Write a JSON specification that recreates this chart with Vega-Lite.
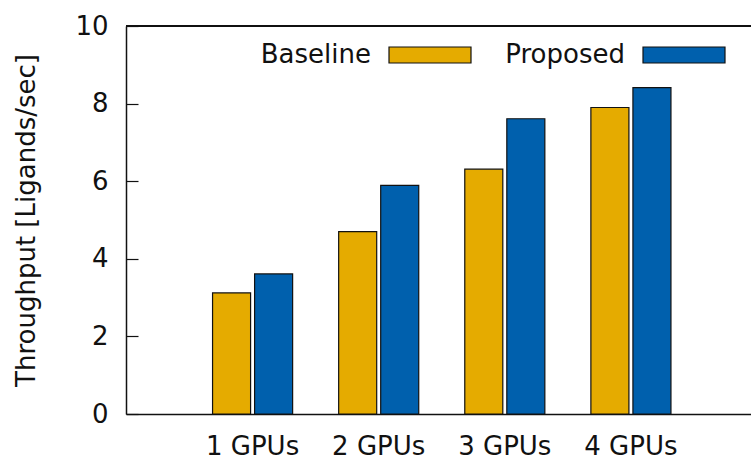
{
  "$schema": "https://vega.github.io/schema/vega-lite/v6.json",
  "width": 625,
  "height": 388,
  "autosize": {"type": "none"},
  "padding": {"left": 126, "top": 26, "right": 0, "bottom": 43},
  "config": {
    "view": {"stroke": null},
    "font": "DejaVu Sans",
    "axis": {
      "domainColor": "#111111",
      "domainWidth": 1.5,
      "labelColor": "#111111",
      "titleColor": "#111111",
      "labelFont": "DejaVu Sans",
      "titleFont": "DejaVu Sans",
      "labelFontSize": 26,
      "titleFontSize": 26,
      "titleFontWeight": "normal",
      "grid": false
    },
    "legend": {
      "labelFont": "DejaVu Sans"
    }
  },
  "data": {
    "values": [
      {"gpus": "1 GPUs", "method": "Baseline", "throughput": 3.12},
      {"gpus": "1 GPUs", "method": "Proposed", "throughput": 3.61},
      {"gpus": "2 GPUs", "method": "Baseline", "throughput": 4.70},
      {"gpus": "2 GPUs", "method": "Proposed", "throughput": 5.89},
      {"gpus": "3 GPUs", "method": "Baseline", "throughput": 6.31},
      {"gpus": "3 GPUs", "method": "Proposed", "throughput": 7.61},
      {"gpus": "4 GPUs", "method": "Baseline", "throughput": 7.90},
      {"gpus": "4 GPUs", "method": "Proposed", "throughput": 8.41}
    ]
  },
  "layer": [
    {
      "mark": {"type": "bar", "stroke": "#111111", "strokeWidth": 1.2},
      "encoding": {
        "x": {
          "field": "gpus",
          "type": "nominal",
          "sort": ["1 GPUs", "2 GPUs", "3 GPUs", "4 GPUs"],
          "scale": {"paddingInner": 0, "paddingOuter": 0.478, "align": 0.527},
          "axis": {"title": null, "ticks": false, "labelAngle": 0, "labelPadding": 19}
        },
        "xOffset": {
          "field": "method",
          "type": "nominal",
          "sort": ["Baseline", "Proposed"],
          "scale": {"paddingInner": 0.0952, "paddingOuter": 0.5476}
        },
        "y": {
          "field": "throughput",
          "type": "quantitative",
          "scale": {"domain": [0, 10], "nice": false},
          "axis": {
            "title": "Throughput [Ligands/sec]",
            "values": [0, 2, 4, 6, 8, 10],
            "tickSize": -12,
            "tickColor": "#111111",
            "tickWidth": 1.2,
            "labelPadding": 30,
            "titlePadding": 35
          }
        },
        "color": {
          "field": "method",
          "type": "nominal",
          "scale": {"domain": ["Baseline", "Proposed"], "range": ["#e5ab00", "#0060ad"]},
          "legend": {
            "orient": "none",
            "legendX": 262,
            "legendY": -13,
            "direction": "horizontal",
            "title": null,
            "symbolType": "M-1,-0.195H1V0.195H-1Z",
            "symbolSize": 6724,
            "symbolStrokeColor": "#111111",
            "symbolStrokeWidth": 1.2,
            "symbolOpacity": 1,
            "labelFontSize": 26,
            "labelColor": "#111111",
            "labelAlign": "right",
            "labelOffset": -101,
            "labelLimit": 0,
            "columnPadding": 31
          }
        }
      }
    },
    {
      "mark": {"type": "rule", "color": "#111111", "strokeWidth": 1.5},
      "encoding": {"y": {"datum": 10}}
    }
  ]
}
